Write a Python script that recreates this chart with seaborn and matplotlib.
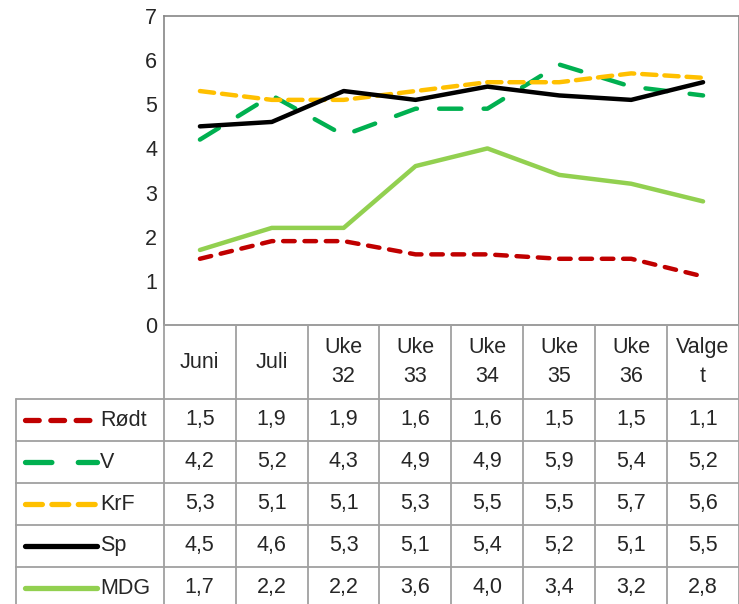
import numpy as np
import pandas as pd
import matplotlib
matplotlib.use("Agg")
import matplotlib.pyplot as plt
import seaborn as sns
from matplotlib.lines import Line2D

# Data
periods = ["Juni", "Juli", "Uke\n32", "Uke\n33", "Uke\n34", "Uke\n35", "Uke\n36", "Valge\nt"]
parties = ["Rødt", "V", "KrF", "Sp", "MDG"]
rodt = [1.5, 1.9, 1.9, 1.6, 1.6, 1.5, 1.5, 1.1]
v = [4.2, 5.2, 4.3, 4.9, 4.9, 5.9, 5.4, 5.2]
krf = [5.3, 5.1, 5.1, 5.3, 5.5, 5.5, 5.7, 5.6]
sp = [4.5, 4.6, 5.3, 5.1, 5.4, 5.2, 5.1, 5.5]
mdg = [1.7, 2.2, 2.2, 3.6, 4.0, 3.4, 3.2, 2.8]
values = [rodt, v, krf, sp, mdg]

colors = ["#C00000", "#00B050", "#FFC000", "#000000", "#92D050"]
dashes = [(2.6, 2.2), (5, 5), (3.2, 1.8), None, None]

sns.set_style("white")
plt.rcParams["font.family"] = ["Liberation Sans Narrow", "Liberation Sans", "DejaVu Sans"]
FS = 15.5

W, H = 739, 604
fig = plt.figure(figsize=(W / 100, H / 100), dpi=100)

def fx(px):
    return px / W

def fy(py):
    return 1 - py / H

# main chart
ax = fig.add_axes([fx(164), fy(325), fx(739) - fx(164), fy(16) - fy(325)])
x = np.arange(len(periods))
for name, vals, c, d in zip(parties, values, colors, dashes):
    df = pd.DataFrame({"x": x, "y": vals})
    sns.lineplot(data=df, x="x", y="y", ax=ax, color=c, linewidth=3.2)
    l = ax.lines[-1]
    if d is not None:
        l.set_dashes(d)
        l.set_dash_capstyle("round")
ax.set_xlim(-0.5, len(periods) - 0.5)
ax.set_ylim(0, 7)
ax.set_yticks(range(8))
ax.set_xticks([])
ax.set_xlabel("")
ax.set_ylabel("")
ax.tick_params(axis="y", length=0, pad=5, labelsize=FS)
for s in ax.spines.values():
    s.set_color("#868686")
    s.set_linewidth(1.2)
    s.set_visible(True)

# data table below
tax = fig.add_axes([fx(16), 0, 1 - fx(16), fy(325)])
tax.set_xlim(-0.5 - 148 / 72, len(periods) - 0.5)
tax.set_ylim(H, 325)
tax.axis("off")
grid = "#A0A0A0"
row_top = [325, 399, 441, 483, 525, 567]
row_bot = [399, 441, 483, 525, 567, 609]
x0 = tax.get_xlim()[0]

# header
for i, p in enumerate(periods):
    tax.text(i, (325 + 399) / 2, p, ha="center", va="center", fontsize=FS, linespacing=1.45)
for i in range(len(periods) + 1):
    tax.plot([i - 0.5, i - 0.5], [325, 399], color=grid, lw=1.3, clip_on=False)
tax.plot([-0.5, len(periods) - 0.5], [325, 325], color=grid, lw=1.3, clip_on=False)

# rows
for r, (name, vals, c, d) in enumerate(zip(parties, values, colors, dashes)):
    top, bot = row_top[r + 1], row_bot[r + 1]
    mid = (top + bot) / 2
    tax.plot([x0, len(periods) - 0.5], [top, top], color=grid, lw=1.3, clip_on=False)
    for i in range(-1, len(periods) + 1):
        xx = x0 if i == -1 else i - 0.5
        tax.plot([xx, xx], [top, bot], color=grid, lw=1.3, clip_on=False)
    for i, val in enumerate(vals):
        tax.text(i, mid, f"{val:.1f}".replace(".", ","), ha="center", va="center", fontsize=FS)
    key = Line2D([x0 + 0.12, x0 + 1.12], [mid, mid], color=c, lw=3.8, solid_capstyle="round")
    if d is not None:
        key.set_dashes(d)
        key.set_dash_capstyle("round")
    tax.add_line(key)
    tax.text(x0 + 1.17, mid, name, ha="left", va="center", fontsize=FS)

fig.savefig("out.png", dpi=100)
